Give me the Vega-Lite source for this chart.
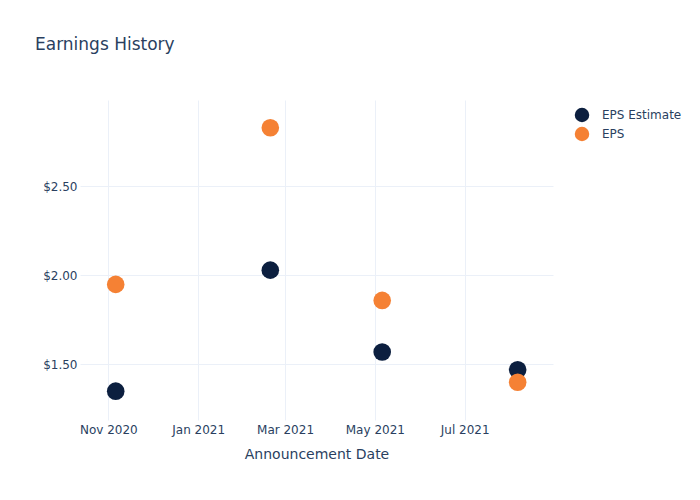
{
  "$schema": "https://vega.github.io/schema/vega-lite/v6.json",
  "autosize": "none",
  "width": 473,
  "height": 320,
  "padding": {"left": 80, "top": 100, "right": 147, "bottom": 80},
  "background": "white",
  "title": {
    "text": "Earnings History",
    "anchor": "start",
    "frame": "group",
    "dx": -45,
    "offset": 46,
    "fontSize": 17,
    "fontWeight": "normal",
    "color": "#2a3f5f",
    "font": "DejaVu Sans"
  },
  "config": {
    "view": {"stroke": null},
    "font": "DejaVu Sans",
    "axis": {
      "gridColor": "#ebf0f8",
      "gridWidth": 1,
      "domain": false,
      "ticks": false,
      "labelColor": "#2a3f5f",
      "labelFontSize": 12,
      "titleColor": "#2a3f5f",
      "titleFontSize": 14,
      "titleFontWeight": "normal",
      "labelFont": "DejaVu Sans",
      "titleFont": "DejaVu Sans"
    },
    "legend": {
      "labelColor": "#2a3f5f",
      "labelFontSize": 12,
      "labelFont": "DejaVu Sans"
    }
  },
  "data": {
    "values": [
      {"date": "2020-11-06", "series": "EPS Estimate", "value": 1.35},
      {"date": "2021-02-19", "series": "EPS Estimate", "value": 2.03},
      {"date": "2021-05-06", "series": "EPS Estimate", "value": 1.57},
      {"date": "2021-08-06", "series": "EPS Estimate", "value": 1.47},
      {"date": "2020-11-06", "series": "EPS", "value": 1.95},
      {"date": "2021-02-19", "series": "EPS", "value": 2.83},
      {"date": "2021-05-06", "series": "EPS", "value": 1.86},
      {"date": "2021-08-06", "series": "EPS", "value": 1.40}
    ]
  },
  "mark": {"type": "point", "filled": true, "opacity": 1, "size": 310},
  "encoding": {
    "x": {
      "field": "date",
      "type": "temporal",
      "title": "Announcement Date",
      "scale": {"domain": ["2020-10-12T18:00:00Z", "2021-08-30T00:00:00Z"]},
      "axis": {
        "values": ["2020-11-01T00:00:00Z", "2021-01-01T00:00:00Z", "2021-03-01T00:00:00Z", "2021-05-01T00:00:00Z", "2021-07-01T00:00:00Z"],
        "format": "%b %Y",
        "labelPadding": 4,
        "titlePadding": 12,
        "labelFlush": false,
        "labelOverlap": false
      }
    },
    "y": {
      "field": "value",
      "type": "quantitative",
      "title": null,
      "scale": {"domain": [1.188, 2.986], "nice": false, "zero": false},
      "axis": {"values": [1.5, 2.0, 2.5], "format": "$.2f", "labelPadding": 3}
    },
    "color": {
      "field": "series",
      "type": "nominal",
      "sort": ["EPS Estimate", "EPS"],
      "scale": {"domain": ["EPS Estimate", "EPS"], "range": ["#0c1f3f", "#f58134"]},
      "legend": {"title": null, "orient": "none", "legendX": 494, "legendY": 7, "symbolSize": 210, "symbolType": "circle", "labelOffset": 12, "rowPadding": 3, "padding": 0}
    },
    "order": {"field": "series", "sort": "descending"}
  }
}
